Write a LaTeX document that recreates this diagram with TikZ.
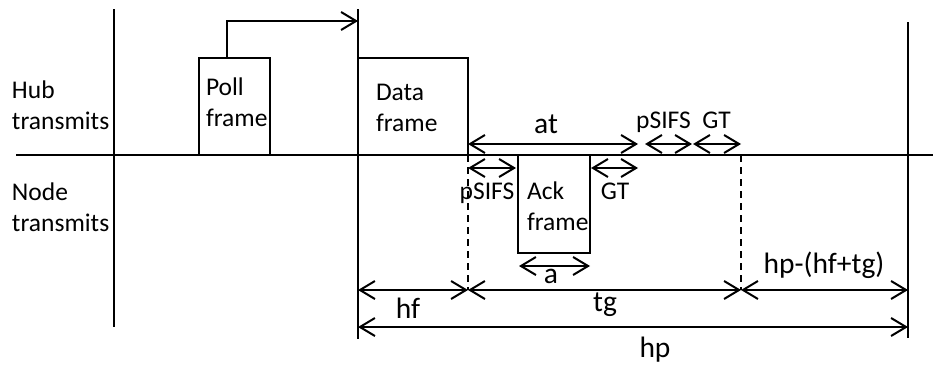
\documentclass[tikz,border=0pt]{standalone}
\usepackage{fontspec}
\setmainfont{Carlito}
\usetikzlibrary{arrows.meta}
\begin{document}
\begin{tikzpicture}[x=1pt,y=-1pt,
  line width=2pt,
  lbl/.style={inner sep=0pt,font=\fontsize{25.5}{31}\selectfont},
  big/.style={inner sep=0pt,font=\fontsize{29.5}{34}\selectfont},
  dim/.style={{Straight Barb[length=15pt,width=18pt]}-{Straight Barb[length=15pt,width=18pt]}},
  guide/.style={dash pattern=on 7pt off 5pt},
]
\useasboundingbox (0,0) rectangle (933,367);

% time axis and period boundaries
\coordinate (axL) at (16,155);
\coordinate (axR) at (933,155);
\draw (axL) -- (axR);
\coordinate (b0t) at (114,9);   \coordinate (b0b) at (114,327);
\coordinate (b1t) at (358,9);   \coordinate (b1b) at (358,339);
\coordinate (b2t) at (908,22);  \coordinate (b2b) at (908,338);
\draw (b0t) -- (b0b);
\draw (b1t) -- (b1b);
\draw (b2t) -- (b2b);

% poll frame and its pointer to the data slot
\coordinate (pollBL) at (199,155);
\coordinate (pollTR) at (270,58);
\draw (pollBL) |- (pollTR) -- (270,155);
\coordinate (pollUp) at (227,58);
\coordinate (pollTo) at (358,21);
\draw[-{Straight Barb[length=15pt,width=18pt]}] (pollUp) |- (pollTo);

% data frame
\coordinate (dataTL) at (358,58);
\coordinate (dataBR) at (468,155);
\draw (dataTL) -| (dataBR);

% ack frame
\coordinate (ackTL) at (518,155);
\coordinate (ackBR) at (590,253);
\draw (ackTL) |- (ackBR) -- (590,155);

% dashed guides
\coordinate (g1t) at (468,155); \coordinate (g1b) at (468,290);
\coordinate (g2t) at (741,155); \coordinate (g2b) at (741,290);
\draw[guide] (g1t) -- (g1b);
\draw[guide] (g2t) -- (g2b);

% dimension arrows
\coordinate (at1) at (468,144); \coordinate (at2) at (638,144);
\coordinate (ps1) at (645,144); \coordinate (ps2) at (692,144);
\coordinate (gt1) at (693,144); \coordinate (gt2) at (741,144);
\coordinate (lp1) at (468,168); \coordinate (lp2) at (516,168);
\coordinate (lg1) at (591,168); \coordinate (lg2) at (638,168);
\coordinate (a1) at (519,266);  \coordinate (a2) at (590,266);
\coordinate (hf1) at (358,290); \coordinate (hf2) at (468,290);
\coordinate (tg2) at (741,290);
\coordinate (rm2) at (908,290);
\coordinate (hp1) at (358,327); \coordinate (hp2) at (908,327);
\draw[dim] (at1) -- (at2);
\draw[dim] (ps1) -- (ps2);
\draw[dim] (gt1) -- (gt2);
\draw[dim] (lp1) -- (lp2);
\draw[dim] (lg1) -- (lg2);
\draw[dim] (a1) -- (a2);
\draw[dim] (hf1) -- (hf2);
\draw[dim] (hf2) -- (tg2);
\draw[dim] (tg2) -- (rm2);
\draw[dim] (hp1) -- (hp2);

% labels
\node[lbl,anchor=base west] (hub) at (11,98) {\begin{tabular}[t]{@{}l@{}}Hub\\transmits\end{tabular}};
\node[lbl,anchor=base west] (nod) at (11,200) {\begin{tabular}[t]{@{}l@{}}Node\\transmits\end{tabular}};
\node[lbl,anchor=base west] (pollt) at (205,95) {\begin{tabular}[t]{@{}l@{}}Poll\\frame\end{tabular}};
\node[lbl,anchor=base west] (datat) at (375,100) {\begin{tabular}[t]{@{}l@{}}Data\\frame\end{tabular}};
\node[lbl,anchor=base west] (ackt) at (526,199) {\begin{tabular}[t]{@{}l@{}}Ack\\frame\end{tabular}};
\node[lbl,anchor=base] (psl) at (487,199) {pSIFS};
\node[lbl,anchor=base] (gtl) at (615,199) {GT};
\node[lbl,anchor=base] (psu) at (663.5,128) {pSIFS};
\node[lbl,anchor=base] (gtu) at (716.5,128) {GT};
\node[big,anchor=base] (att) at (546,133) {at};
\node[big,anchor=base] (aa) at (551,283) {a};
\node[big,anchor=base] (hft) at (408,318) {hf};
\node[big,anchor=base] (tgt) at (605,311) {tg};
\node[big,anchor=base] (hpt) at (655,357) {hp};
\node[big,anchor=base] (rmt) at (824,273) {hp-(hf+tg)};
\end{tikzpicture}
\end{document}
